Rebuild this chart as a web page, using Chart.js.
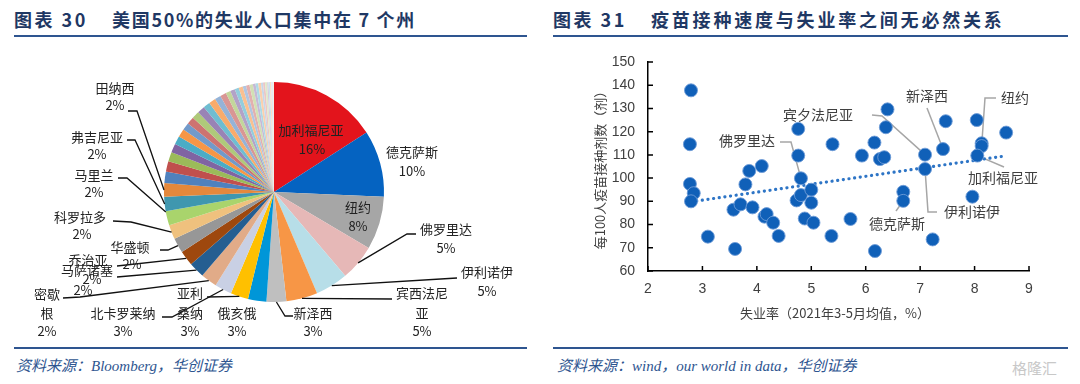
<!DOCTYPE html>
<html lang="zh">
<head>
<meta charset="UTF-8">
<title>chart</title>
<script src="https://cdn.jsdelivr.net/npm/chart.js"></script>
<style>
  body { margin:0; width:1080px; height:384px; background:#fff; position:relative; overflow:hidden; }
  .ttl { position:absolute; top:7px; line-height:24px; font-family:"Noto Sans CJK SC", sans-serif; font-weight:bold; font-size:18px; letter-spacing:2.5px; color:#1F3864; white-space:nowrap; }
  .rule { position:absolute; height:2px; background:#2E5590; }
  .src { position:absolute; top:356px; line-height:20px; font-family:"Liberation Serif", "Noto Sans CJK SC", serif; font-style:italic; font-size:15px; color:#2E5590; white-space:nowrap; }
  canvas { position:absolute; top:0; }
  .wm { position:absolute; left:1012px; top:357px; font-family:"Noto Sans CJK SC", sans-serif; font-size:15px; color:#c8c8c8; }
</style>
</head>
<body>
<div class="ttl" style="left:14px">图表 30</div>
<div class="ttl" style="left:112px;letter-spacing:1.7px">美国50%的失业人口集中在 7 个州</div>
<div class="ttl" style="left:553px">图表 31</div>
<div class="ttl" style="left:651px;letter-spacing:2.8px">疫苗接种速度与失业率之间无必然关系</div>
<div class="rule" style="left:14px;top:35px;width:513px"></div>
<div class="rule" style="left:553px;top:35px;width:515px"></div>
<div class="rule" style="left:14px;top:347px;width:513px"></div>
<div class="rule" style="left:553px;top:347px;width:515px"></div>
<div class="src" style="left:16px">资料来源：Bloomberg，华创证券</div>
<div class="src" style="left:557px">资料来源：wind，our world in data，华创证券</div>
<div class="wm">格隆汇</div>

<canvas id="pie" width="540" height="384" style="left:0"></canvas>
<canvas id="sc" width="540" height="384" style="left:540px"></canvas>

<script>
// ---- pie: share of unemployed by state (%)
const stateNames = ['加利福尼亚','德克萨斯','纽约','佛罗里达','伊利诺伊','宾西法尼亚','新泽西','俄亥俄','亚利桑纳','北卡罗莱纳',
  '密歇根','马萨诸塞','乔治亚','华盛顿','科罗拉多','马里兰','弗吉尼亚','田纳西',
  '印第安纳','密苏里','威斯康星','明尼苏达','南卡罗来纳','阿拉巴马','路易斯安那','肯塔基','俄勒冈','俄克拉荷马','康涅狄格',
  '犹他','爱荷华','内华达','阿肯色','密西西比','堪萨斯','新墨西哥','内布拉斯加','爱达荷','西弗吉尼亚','夏威夷','新罕布什尔',
  '缅因','蒙大拿','罗德岛','特拉华','南达科他','北达科他','阿拉斯加','哥伦比亚特区','佛蒙特','怀俄明'];
const stateShare = [15.9, 9.8, 7.8, 5.3, 4.8, 4.6, 2.9, 2.7, 2.6, 2.5,
  2.4, 2.3, 2.2, 2.2, 2.1, 2.1, 2.1, 2.0,
  1.7, 1.5, 1.4, 1.3, 1.2, 1.2, 1.1, 1.1, 1.1, 1.1, 1.0,
  1.0, 0.9, 0.9, 0.7, 0.7, 0.6, 0.6, 0.5, 0.5, 0.5, 0.4, 0.4,
  0.4, 0.3, 0.3, 0.3, 0.2, 0.2, 0.2, 0.2, 0.1, 0.1];

// ---- scatter: unemployment rate vs doses per 100 people
const unempRate = [2.79, 2.77, 2.77, 2.84, 2.79, 3.10, 3.57, 3.60, 3.70, 3.79, 3.86, 3.92, 4.09, 4.14, 4.18, 4.30, 4.40,
  4.76, 4.76, 4.81, 4.73, 4.81, 5.00, 5.00, 4.88, 5.04, 5.37, 5.39, 5.72, 5.93, 6.16, 6.17, 6.26, 6.34, 6.37, 6.40,
  6.69, 6.69, 7.09, 7.09, 7.23, 7.42, 7.47, 7.96, 8.04, 8.13, 8.13, 8.05, 8.58];
const dosesPer100 = [137.8, 114.6, 97.5, 93.5, 90.0, 74.8, 86.4, 69.5, 88.7, 97.3, 103.1, 87.4, 105.2, 83.4, 84.5, 80.8, 75.1,
  121.2, 109.7, 99.9, 90.4, 92.7, 95.0, 89.4, 82.6, 80.8, 75.1, 114.6, 82.4, 109.7, 115.3, 68.6, 108.2, 109.0, 121.9, 129.6,
  94.1, 90.2, 110.1, 103.9, 73.6, 112.5, 124.5, 92.0, 125.0, 115.0, 113.8, 109.7, 119.6];
const trendX = [2.79, 8.55];
const trendY = [89.8, 109.5];
const xTicks = [2, 3, 4, 5, 6, 7, 8, 9];
const yTicks = [60, 70, 80, 90, 100, 110, 120, 130, 140, 150];

// colours for the slices
const firstColors = ['#E3141C','#0563C1','#A6A6A6','#E6B8B7','#B7DEE8','#F79646','#BFBFBF','#0096D8','#FFC000','#C9D0E4',
  '#E1AB88','#255E91','#9E480E','#979797','#EFC17E','#A9D46C','#3F97AF','#E4883C'];
const baseCols = [[79,129,189],[192,80,77],[155,187,89],[128,100,162],[75,172,198],[247,150,70]];
const tints = [0, 0.2, 0.4, 0.55, 0.68, 0.8];
const pieColors = stateShare.map((v, i) => {
  if (i < firstColors.length) return firstColors[i];
  const k = i - firstColors.length;
  const c = baseCols[k % 6], t = tints[Math.min(Math.floor(k / 6), tints.length - 1)];
  return 'rgb(' + c.map(ch => Math.round(ch + (255 - ch) * t)).join(',') + ')';
});

// labels round the pie: text lines [text, x, y], leader path (label side), slice index
const pieNotes = [
  {i:0, lines:[['加利福尼亚',311,130],['16%',312,149]]},
  {i:1, lines:[['德克萨斯',412,152],['10%',412,171]]},
  {i:2, lines:[['纽约',358,207],['8%',358,226]]},
  {i:3, lines:[['佛罗里达',446,229],['5%',446,248]], p:[[416,234],[407,234]]},
  {i:4, lines:[['伊利诺伊',487,272],['5%',487,291]], p:[[457,278]]},
  {i:5, lines:[['宾西法尼',422,293],['亚',422,313],['5%',422,331]], p:[[392,299]]},
  {i:6, lines:[['新泽西',313,313],['3%',313,331]], p:[[293,316],[285,316]]},
  {i:7, lines:[['俄亥俄',237,313],['3%',237,331]]},
  {i:8, lines:[['亚利',190,293],['桑纳',190,313],['3%',190,331]], p:[[207,297]]},
  {i:9, lines:[['北卡罗莱纳',123,313],['3%',123,331]], p:[[162,317],[172,317]]},
  {i:10, lines:[['密歇',47,294],['根',47,313],['2%',47,331]], p:[[63,298],[80,297]]},
  {i:11, lines:[['马萨诸塞',87,270],['2%',83,290]], p:[[117,277]]},
  {i:12, lines:[['乔治亚',88,260],['2%',92,279]], p:[[117,266]]},
  {i:13, lines:[['华盛顿',130,247],['2%',132,264]], p:[[160,250],[168,250]]},
  {i:14, lines:[['科罗拉多',80,217],['2%',82,234]], p:[[113,221],[131,222]]},
  {i:15, lines:[['马里兰',94,175],['2%',94,192]], p:[[118,178],[127,178]], f:0.95},
  {i:16, lines:[['弗吉尼亚',97,137],['2%',97,154]], p:[[127,140],[135,140]]},
  {i:17, lines:[['田纳西',115,88],['2%',115,105]], p:[[128,111],[137,111]]}
];

const pieNotePlugin = {
  id: 'pieNotes',
  afterDatasetsDraw(chart) {
    const ctx = chart.ctx;
    const arcs = chart.getDatasetMeta(0).data;
    ctx.save();
    ctx.strokeStyle = '#111';
    ctx.lineWidth = 1.3;
    pieNotes.forEach(n => {
      if (!n.p) return;
      const a = arcs[n.i];
      const f = n.f === undefined ? 0.5 : n.f;
      const ang = a.startAngle + (a.endAngle - a.startAngle) * f;
      const ex = a.x + Math.cos(ang) * a.outerRadius;
      const ey = a.y + Math.sin(ang) * a.outerRadius;
      ctx.beginPath();
      ctx.moveTo(n.p[0][0], n.p[0][1]);
      for (let k = 1; k < n.p.length; k++) ctx.lineTo(n.p[k][0], n.p[k][1]);
      ctx.lineTo(ex, ey);
      ctx.stroke();
    });
    ctx.fillStyle = '#222';
    ctx.font = '13px "Noto Sans CJK SC"';
    ctx.textAlign = 'center';
    ctx.textBaseline = 'middle';
    pieNotes.forEach(n => n.lines.forEach(l => ctx.fillText(l[0], l[1], l[2])));
    ctx.restore();
  }
};

new Chart(document.getElementById('pie'), {
  type: 'pie',
  data: {
    labels: stateNames,
    datasets: [{ data: stateShare, backgroundColor: pieColors, borderWidth: 0 }]
  },
  options: {
    responsive: false,
    animation: false,
    layout: { padding: { left: 164, right: 156, top: 82, bottom: 82 } },
    plugins: { legend: { display: false }, tooltip: { enabled: false } }
  },
  plugins: [pieNotePlugin]
});

// scatter labels: [text, x, y] in page coordinates, path from label to the point
const scNotes = [
  {t:'佛罗里达', x:747, y:141, p:[[780,142],[791,142]], pt:[4.81, 99.9]},
  {t:'宾夕法尼亚', x:818, y:115, p:[[872,115],[882,116]], pt:[7.09, 110.1]},
  {t:'新泽西', x:927, y:96, p:[[927,108]], pt:[7.42, 112.5]},
  {t:'纽约', x:1015, y:98, p:[[996,98],[985,98]], pt:[8.13, 113.8]},
  {t:'加利福尼亚', x:1003, y:178, p:[[1004,167]], pt:[8.05, 109.7]},
  {t:'伊利诺伊', x:972, y:212, p:[[937,212],[928,212]], pt:[7.09, 103.9]},
  {t:'德克萨斯', x:897, y:224, p:[[896,211]], pt:[6.69, 90.2]}
];

const scPlugin = {
  id: 'scNotes',
  beforeDatasetsDraw(chart) {
    const ctx = chart.ctx, xs = chart.scales.x, ys = chart.scales.y;
    ctx.save();
    ctx.strokeStyle = '#A6A6A6';
    ctx.lineWidth = 1.5;
    scNotes.forEach(n => {
      ctx.beginPath();
      ctx.moveTo(n.p[0][0] - 540, n.p[0][1]);
      for (let k = 1; k < n.p.length; k++) ctx.lineTo(n.p[k][0] - 540, n.p[k][1]);
      ctx.lineTo(xs.getPixelForValue(n.pt[0]), ys.getPixelForValue(n.pt[1]));
      ctx.stroke();
    });
    ctx.restore();
  },
  afterDraw(chart) {
    const ctx = chart.ctx, xs = chart.scales.x, ys = chart.scales.y, area = chart.chartArea;
    ctx.save();
    // inward tick marks
    ctx.strokeStyle = '#000';
    ctx.lineWidth = 1.5;
    ctx.beginPath();
    yTicks.forEach(v => { const py = ys.getPixelForValue(v); ctx.moveTo(area.left, py); ctx.lineTo(area.left + 5, py); });
    xTicks.forEach(v => { const px = xs.getPixelForValue(v); ctx.moveTo(px, area.bottom); ctx.lineTo(px, area.bottom - 5); });
    ctx.stroke();
    // labels
    ctx.fillStyle = '#404040';
    ctx.font = '14px "Noto Sans CJK SC"';
    ctx.textAlign = 'center';
    ctx.textBaseline = 'middle';
    scNotes.forEach(n => ctx.fillText(n.t, n.x - 540, n.y));
    // axis titles
    ctx.font = '13px "Noto Sans CJK SC"';
    ctx.fillText('失业率（2021年3-5月均值，%）', 295, 313);
    ctx.translate(60, 167);
    ctx.rotate(-Math.PI / 2);
    ctx.fillText('每100人疫苗接种剂数（剂）', 0, 0);
    ctx.restore();
  }
};

const pts = unempRate.map((x, i) => ({ x: x, y: dosesPer100[i] }));
const trendPts = trendX.map((x, i) => ({ x: x, y: trendY[i] }));

new Chart(document.getElementById('sc'), {
  type: 'scatter',
  data: {
    datasets: [
      { data: pts, backgroundColor: '#1060B8', borderColor: 'rgba(110,155,215,0.9)', borderWidth: 1, pointRadius: 6.5, order: 0 },
      { data: trendPts, showLine: true, pointRadius: 0, borderColor: '#2E75C6', borderWidth: 3.2,
        borderDash: [0.1, 5.6], borderCapStyle: 'round', order: 1 }
    ]
  },
  options: {
    responsive: false,
    animation: false,
    layout: { padding: { left: 0, right: 51, top: 62, bottom: 0 } },
    plugins: { legend: { display: false }, tooltip: { enabled: false } },
    scales: {
      x: {
        type: 'linear', min: 2, max: 9,
        afterFit: s => { s.height = 113; },
        afterBuildTicks: s => { s.ticks = xTicks.map(v => ({ value: v })); },
        grid: { display: false, drawTicks: false },
        border: { display: true, color: '#000', width: 1.5 },
        ticks: { padding: 10, color: '#404040', font: { family: 'Liberation Sans', size: 14 } }
      },
      y: {
        min: 60, max: 150,
        afterFit: s => { s.width = 108; },
        afterBuildTicks: s => { s.ticks = yTicks.map(v => ({ value: v })); },
        grid: { display: false, drawTicks: false },
        border: { display: true, color: '#000', width: 1.5 },
        ticks: { padding: 13, color: '#404040', font: { family: 'Liberation Sans', size: 14 } }
      }
    }
  },
  plugins: [scPlugin]
});
</script>
</body>
</html>
